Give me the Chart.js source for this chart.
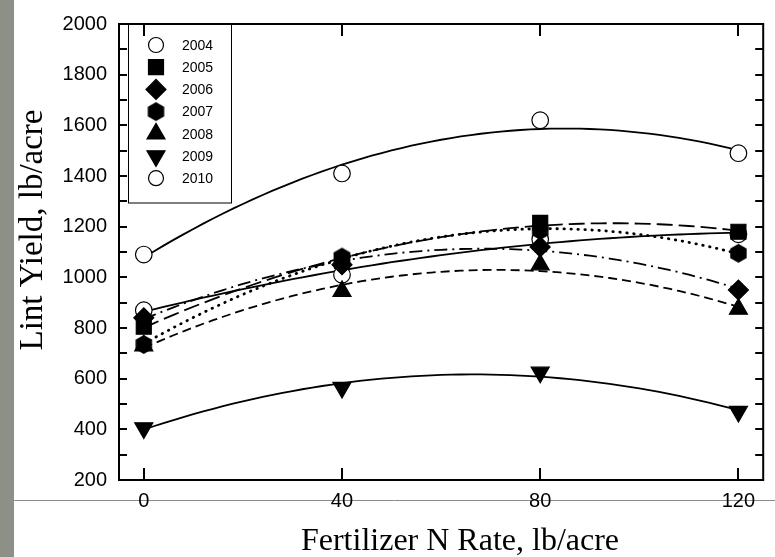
<!DOCTYPE html>
<html>
<head>
<meta charset="utf-8">
<title>Lint yield vs fertilizer N rate</title>
<script src="https://cdn.jsdelivr.net/npm/chart.js@4.4.1/dist/chart.umd.min.js"></script>
<style>
    html, body { margin: 0; padding: 0; background: #fff; }
    #wrap { width: 775px; height: 557px; }
</style>
</head>
<body>
<div id="wrap"><canvas id="yieldChart" width="775" height="557"></canvas></div>
<script>
// Fertilizer N rates (lb/acre) and lint yields (lb/acre) per year
const nRates = [0, 40, 80, 120];
const yield2004 = [870, 1010, 1150, 1170];
const yield2005 = [805, 1065, 1215, 1180];
const yield2006 = [840, 1050, 1120, 950];
const yield2007 = [735, 1080, 1185, 1095];
const yield2008 = [730, 945, 1050, 875];
const yield2009 = [405, 565, 625, 470];
const yield2010 = [1090, 1410, 1620, 1490];

const xTickValues = [0, 40, 80, 120];
const yTickValues = [200, 400, 600, 800, 1000, 1200, 1400, 1600, 1800, 2000];

const FONT_SANS = '"Liberation Sans", Arial, sans-serif';
const FONT_SERIF = '"Liberation Serif", "Times New Roman", serif';

// filled hexagon (pointy top) used as a custom point style
function makeHexagon(r) {
    const w = Math.ceil(r * Math.sqrt(3)) + 2;
    const h = Math.ceil(2 * r) + 2;
    const c = document.createElement('canvas');
    c.width = w;
    c.height = h;
    const g = c.getContext('2d');
    g.beginPath();
    for (let k = 0; k < 6; k++) {
        const a = -Math.PI / 2 + k * Math.PI / 3;
        const px = w / 2 + r * Math.cos(a);
        const py = h / 2 + r * Math.sin(a);
        if (k === 0) g.moveTo(px, py); else g.lineTo(px, py);
    }
    g.closePath();
    g.fillStyle = '#000';
    g.fill();
    return c;
}
const hexagon = makeHexagon(9.5);

// quadratic least-squares fit y = a + b x + c x^2
function quadFit(xs, ys) {
    let s0 = 0, s1 = 0, s2 = 0, s3 = 0, s4 = 0, t0 = 0, t1 = 0, t2 = 0;
    xs.forEach((x, i) => {
        const y = ys[i];
        s0 += 1; s1 += x; s2 += x * x; s3 += x * x * x; s4 += x * x * x * x;
        t0 += y; t1 += x * y; t2 += x * x * y;
    });
    const m = [[s0, s1, s2, t0], [s1, s2, s3, t1], [s2, s3, s4, t2]];
    for (let i = 0; i < 3; i++) {
        for (let j = i + 1; j < 3; j++) {
            const f = m[j][i] / m[i][i];
            for (let k = i; k < 4; k++) m[j][k] -= f * m[i][k];
        }
    }
    const coef = [0, 0, 0];
    for (let i = 2; i >= 0; i--) {
        let s = m[i][3];
        for (let k = i + 1; k < 3; k++) s -= m[i][k] * coef[k];
        coef[i] = s / m[i][i];
    }
    return coef;
}

function fitCurve(ys) {
    const [a, b, c] = quadFit(nRates, ys);
    const pts = [];
    for (let x = nRates[0]; x <= nRates[nRates.length - 1]; x += 2) {
        pts.push({ x: x, y: a + b * x + c * x * x });
    }
    return pts;
}

const series = [
    { label: '2004', values: yield2004, style: 'circle', radius: 8.3, fill: '#fff', dash: [] },
    { label: '2005', values: yield2005, style: 'rect', radius: 10.6, fill: '#000', dash: [16, 6] },
    { label: '2006', values: yield2006, style: 'rectRot', radius: 10, fill: '#000', dash: [13, 5, 2, 5] },
    { label: '2007', values: yield2007, style: hexagon, radius: 9.5, fill: '#000', dash: [0.5, 6.5], cap: 'round', width: 2.8 },
    { label: '2008', values: yield2008, style: 'triangle', radius: 10.4, fill: '#000', dash: [9, 5] },
    { label: '2009', values: yield2009, style: 'triangle', rotation: 180, radius: 10.4, fill: '#000', dash: [] },
    { label: '2010', values: yield2010, style: 'circle', radius: 8.3, fill: '#fff', dash: [] }
];

const datasets = [];
series.forEach((s, i) => {
    datasets.push({
        label: s.label + ' fit',
        data: fitCurve(s.values),
        showLine: true,
        borderColor: '#000',
        borderWidth: s.width || 1.8,
        borderDash: s.dash,
        borderCapStyle: s.cap || 'butt',
        pointRadius: 0,
        tension: 0,
        order: 100 - i
    });
});
series.forEach((s, i) => {
    datasets.push({
        label: s.label,
        data: nRates.map((x, k) => ({ x: x, y: s.values[k] })),
        showLine: false,
        pointStyle: s.style,
        rotation: s.rotation || 0,
        pointRadius: s.radius,
        backgroundColor: s.fill,
        borderColor: '#000',
        borderWidth: 1.2,
        order: 50 - i
    });
});

// page backdrop, frame, inward ticks, legend box and axis titles
const decorPlugin = {
    id: 'decor',
    beforeDraw(chart) {
        const ctx = chart.ctx;
        ctx.save();
        ctx.fillStyle = '#fff';
        ctx.fillRect(0, 0, chart.width, chart.height);
        ctx.fillStyle = '#8d9086';
        ctx.fillRect(0, 0, 14, chart.height);
        ctx.strokeStyle = '#8a8a8a';
        ctx.lineWidth = 1;
        ctx.beginPath();
        ctx.moveTo(14, 500.5);
        ctx.lineTo(chart.width, 500.5);
        ctx.stroke();
        ctx.restore();
    },
    afterDraw(chart) {
        const ctx = chart.ctx;
        const a = chart.chartArea;
        const xs = chart.scales.x;
        const ys = chart.scales.y;
        ctx.save();
        ctx.strokeStyle = '#000';
        ctx.lineWidth = 2;
        ctx.strokeRect(a.left, a.top, a.right - a.left, a.bottom - a.top);

        ctx.beginPath();
        xTickValues.forEach(v => {
            const px = Math.round(xs.getPixelForValue(v));
            ctx.moveTo(px, a.bottom); ctx.lineTo(px, a.bottom - 12);
            ctx.moveTo(px, a.top); ctx.lineTo(px, a.top + 12);
        });
        const yMin = yTickValues[0];
        const yMax = yTickValues[yTickValues.length - 1];
        const step = (yTickValues[1] - yTickValues[0]) / 2;
        for (let v = yMin + step; v < yMax; v += step) {
            const py = Math.round(ys.getPixelForValue(v));
            ctx.moveTo(a.left, py); ctx.lineTo(a.left + 8, py);
            ctx.moveTo(a.right, py); ctx.lineTo(a.right - 8, py);
        }
        ctx.stroke();

        // legend
        const box = { left: 128, top: a.top, right: 231, bottom: 203 };
        ctx.lineWidth = 1;
        ctx.strokeRect(box.left + 0.5, box.top, box.right - box.left, box.bottom - box.top);
        ctx.font = '14px ' + FONT_SANS;
        ctx.textAlign = 'left';
        ctx.textBaseline = 'middle';
        series.forEach((s, i) => {
            const cy = 45 + i * 22.2;
            ctx.fillStyle = s.fill;
            ctx.strokeStyle = '#000';
            ctx.lineWidth = 1.2;
            Chart.helpers.drawPoint(ctx, {
                pointStyle: s.style,
                rotation: s.rotation || 0,
                radius: s.style === 'circle' ? 7.5 : s.radius,
                borderWidth: 1.2
            }, 156, cy);
            ctx.fillStyle = '#000';
            ctx.fillText(s.label, 182, cy + 1);
        });

        // axis titles
        ctx.fillStyle = '#000';
        ctx.textAlign = 'center';
        ctx.textBaseline = 'alphabetic';
        ctx.font = '32px ' + FONT_SERIF;
        ctx.fillText('Fertilizer N Rate, lb/acre', 460, 550);
        ctx.translate(42, 230);
        ctx.rotate(-Math.PI / 2);
        ctx.font = '33px ' + FONT_SERIF;
        ctx.fillText('Lint Yield, lb/acre', 0, 0);
        ctx.restore();
    }
};

new Chart(document.getElementById('yieldChart'), {
    type: 'scatter',
    data: { datasets: datasets },
    options: {
        responsive: false,
        animation: false,
        events: [],
        layout: { padding: { top: 20, right: 1, left: 0, bottom: 0 } },
        plugins: {
            legend: { display: false },
            tooltip: { enabled: false },
            title: { display: false }
        },
        scales: {
            x: {
                type: 'linear',
                min: -5,
                max: 125,
                afterBuildTicks: s => { s.ticks = xTickValues.map(v => ({ value: v })); },
                afterFit: s => { s.height = 77; },
                grid: { display: false, drawTicks: false },
                border: { display: false },
                ticks: {
                    color: '#000',
                    padding: 9,
                    maxRotation: 0,
                    callback: v => String(v),
                    font: { family: FONT_SANS, size: 20 }
                }
            },
            y: {
                type: 'linear',
                min: 200,
                max: 2000,
                afterBuildTicks: s => { s.ticks = yTickValues.map(v => ({ value: v })); },
                afterFit: s => { s.width = 119; },
                grid: { display: false, drawTicks: false },
                border: { display: false },
                ticks: {
                    color: '#000',
                    padding: 12,
                    callback: v => String(v),
                    font: { family: FONT_SANS, size: 20 }
                }
            }
        }
    },
    plugins: [decorPlugin]
});
</script>
</body>
</html>
